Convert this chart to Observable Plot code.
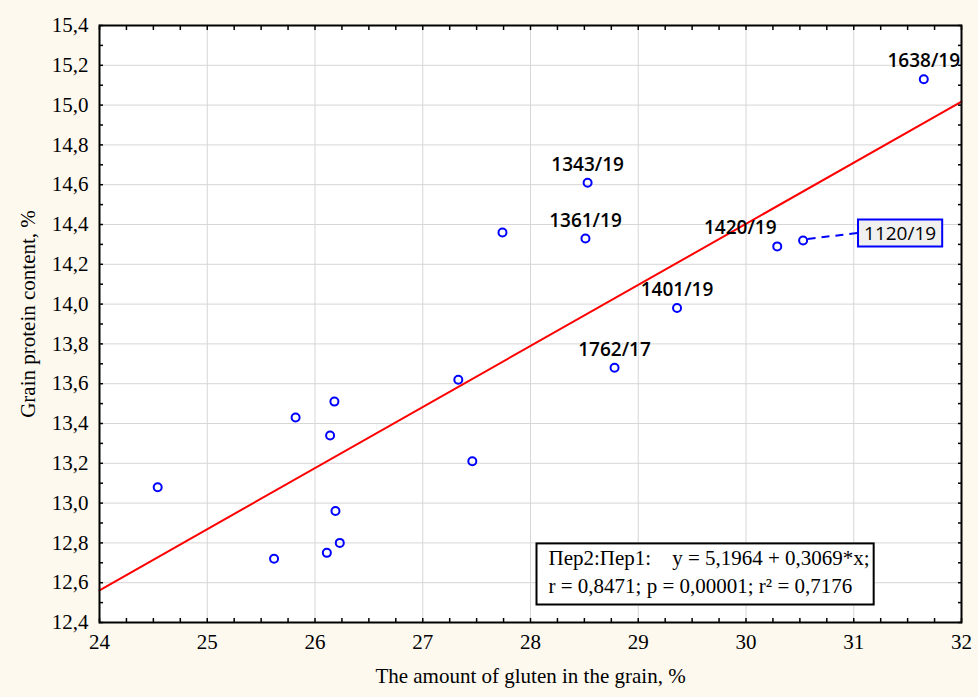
<!DOCTYPE html>
<html><head><meta charset="utf-8">
<script src="https://cdn.jsdelivr.net/npm/d3@7"></script>
<script src="https://cdn.jsdelivr.net/npm/@observablehq/plot@0.6"></script>
<style>
html,body{margin:0;padding:0;background:#fdf9ef;}
#chart svg{display:block;}
</style>
</head><body><div id="chart"></div>
<script>
// ---- data ----
const gluten  = [24.54, 25.62, 25.82, 26.14, 26.18, 26.19, 26.11, 26.23, 27.33, 27.46, 27.74, 28.53, 28.51, 28.78, 29.36, 30.29, 30.53, 31.65];
const protein = [13.08, 12.72, 13.43, 13.34, 13.51, 12.96, 12.75, 12.80, 13.62, 13.21, 14.36, 14.61, 14.33, 13.68, 13.98, 14.29, 14.32, 15.13];
const names   = [null, null, null, null, null, null, null, null, null, null, null,
                 "1343/19", "1361/19", "1762/17", "1401/19", "1420/19", "1120/19", "1638/19"];
const leftNames  = ["1420/19"];
const boxedNames = ["1120/19"];
const xTicks = [24, 25, 26, 27, 28, 29, 30, 31, 32];
const yTicks = [12.4, 12.6, 12.8, 13.0, 13.2, 13.4, 13.6, 13.8, 14.0, 14.2, 14.4, 14.6, 14.8, 15.0, 15.2, 15.4];
const fitIntercept = 5.1964;
const fitSlope = 0.3069;
const fitRange = [24, 32];
const statsText = "Пер2:Пер1:\u00a0\u00a0\u00a0\u00a0y = 5,1964 + 0,3069*x;\nr = 0,8471; p = 0,00001; r² = 0,7176";
const xLabel = "The amount of gluten in the grain, %";
const yLabel = "Grain protein content, %";

// ---- derived ----
const points = gluten.map((g, i) => ({x: g, y: protein[i], name: names[i]}));
const centerLabels = points.filter(d => d.name && !leftNames.includes(d.name) && !boxedNames.includes(d.name));
const leftLabels = points.filter(d => leftNames.includes(d.name));
const boxedLabels = points.filter(d => boxedNames.includes(d.name));
const fitLine = fitRange.map(x => ({x, y: fitIntercept + fitSlope * x}));
const xMinor = d3.range(24, 32.001, 0.25);
const yMinor = d3.range(12.4, 15.401, 0.1);
const commaFmt = d => d.toFixed(1).replace(".", ",");
const serif = "Liberation Serif";
const sans = "Open Sans";
const blue = "#0000ff";
const serifSize = 21;
const labelSize = 19;

const chart = Plot.plot({
  width: 978,
  height: 697,
  marginLeft: 99,
  marginRight: 17,
  marginTop: 25,
  marginBottom: 75,
  style: {background: "#fdf9ef", fontFamily: serif, fontSize: serifSize + "px", color: "black"},
  x: {domain: [24, 32]},
  y: {domain: [12.4, 15.4]},
  marks: [
    Plot.frame({fill: "white"}),
    Plot.gridX(xTicks, {stroke: "#d6d6d6", strokeOpacity: 1, strokeWidth: 1}),
    Plot.gridY(yTicks, {stroke: "#d6d6d6", strokeOpacity: 1, strokeWidth: 1}),
    Plot.line(fitLine, {x: "x", y: "y", stroke: "#ff0000", strokeWidth: 2}),
    Plot.dot(points, {x: "x", y: "y", r: 4, stroke: blue, strokeWidth: 2, fill: "none"}),
    Plot.text(centerLabels, {x: "x", y: "y", text: "name", dy: -18, fontFamily: sans, fontSize: labelSize, fontWeight: 600, fill: "black"}),
    Plot.text(leftLabels, {x: "x", y: "y", text: "name", dx: -37, dy: -18, fontFamily: sans, fontSize: labelSize, fontWeight: 600, fill: "black"}),
    Plot.text(boxedLabels, {x: "x", y: "y", text: "name", dx: 97, dy: -7, fontFamily: sans, fontSize: labelSize, fontWeight: 500, fill: "black", className: "boxed-label"}),
    Plot.text([statsText], {frameAnchor: "bottom-left", text: d => d, dx: 449, dy: -30, textAnchor: "start", lineAnchor: "bottom", lineHeight: 1.29, fontFamily: serif, fontSize: serifSize, fill: "black", className: "stats-label"}),
    Plot.frame({stroke: "black", strokeWidth: 2}),
    Plot.axisX(xTicks, {tickSize: 0, tickPadding: 12, tickFormat: d => String(d), label: null, fontSize: serifSize}),
    Plot.axisX(xMinor, {anchor: "bottom", tickSize: -4, tickFormat: () => "", label: null, strokeWidth: 1.5}),
    Plot.axisX(xMinor, {anchor: "top", tickSize: -4, tickFormat: () => "", label: null, strokeWidth: 1.5}),
    Plot.axisY(yTicks, {anchor: "left", tickSize: 0, tickPadding: 11, tickFormat: commaFmt, label: null, fontSize: serifSize}),
    Plot.axisY(yMinor, {anchor: "left", tickSize: -4, tickFormat: () => "", label: null, strokeWidth: 1.5}),
    Plot.axisY(yMinor, {anchor: "right", tickSize: -4, tickFormat: () => "", label: null, strokeWidth: 1.5}),
    Plot.text([xLabel], {frameAnchor: "bottom", text: d => d, textAnchor: "middle", dy: 60, fontFamily: serif, fontSize: serifSize, fill: "black"}),
    Plot.text([yLabel], {frameAnchor: "left", text: d => d, textAnchor: "middle", rotate: -90, dx: -71, dy: -10, fontFamily: serif, fontSize: serifSize, fill: "black"})
  ]
});

document.getElementById("chart").appendChild(chart);

// ---- decorations drawn around rendered text ----
const svgNS = "http://www.w3.org/2000/svg";
const sx = chart.scale("x"), sy = chart.scale("y");

function boxAround(textEl, padX1, padX2, padY1, padY2, attrs) {
  const bb = textEl.getBBox();
  const g = textEl.parentNode;
  const tr = textEl.getAttribute("transform") || "";
  const rect = document.createElementNS(svgNS, "rect");
  rect.setAttribute("x", bb.x - padX1);
  rect.setAttribute("y", bb.y - padY1);
  rect.setAttribute("width", bb.width + padX1 + padX2);
  rect.setAttribute("height", bb.height + padY1 + padY2);
  if (tr) rect.setAttribute("transform", tr);
  for (const k in attrs) rect.setAttribute(k, attrs[k]);
  g.insertBefore(rect, textEl);
  return rect;
}

// stats box
chart.querySelectorAll(".stats-label text").forEach(t => {
  boxAround(t, 12, 4, 3, 7, {fill: "white", stroke: "black", "stroke-width": 2});
});

// boxed label + dashed leader
chart.querySelectorAll(".boxed-label text").forEach((t, i) => {
  const d = boxedLabels[i];
  const rect = boxAround(t, 6, 6, 0, 1, {fill: "#f0f0f0", stroke: blue, "stroke-width": 2});
  const r = rect.getBoundingClientRect();
  const s = chart.getBoundingClientRect();
  const x0 = sx.apply(d.x), y0 = sy.apply(d.y);
  const x1 = r.left - s.left, y1 = r.top - s.top + r.height / 2;
  const path = document.createElementNS(svgNS, "line");
  path.setAttribute("x1", x0 + 5); path.setAttribute("y1", y0 - 1);
  path.setAttribute("x2", x1); path.setAttribute("y2", y1);
  path.setAttribute("stroke", blue);
  path.setAttribute("stroke-width", 2);
  path.setAttribute("stroke-dasharray", "8,6");
  chart.appendChild(path);
});
</script>
</body></html>
